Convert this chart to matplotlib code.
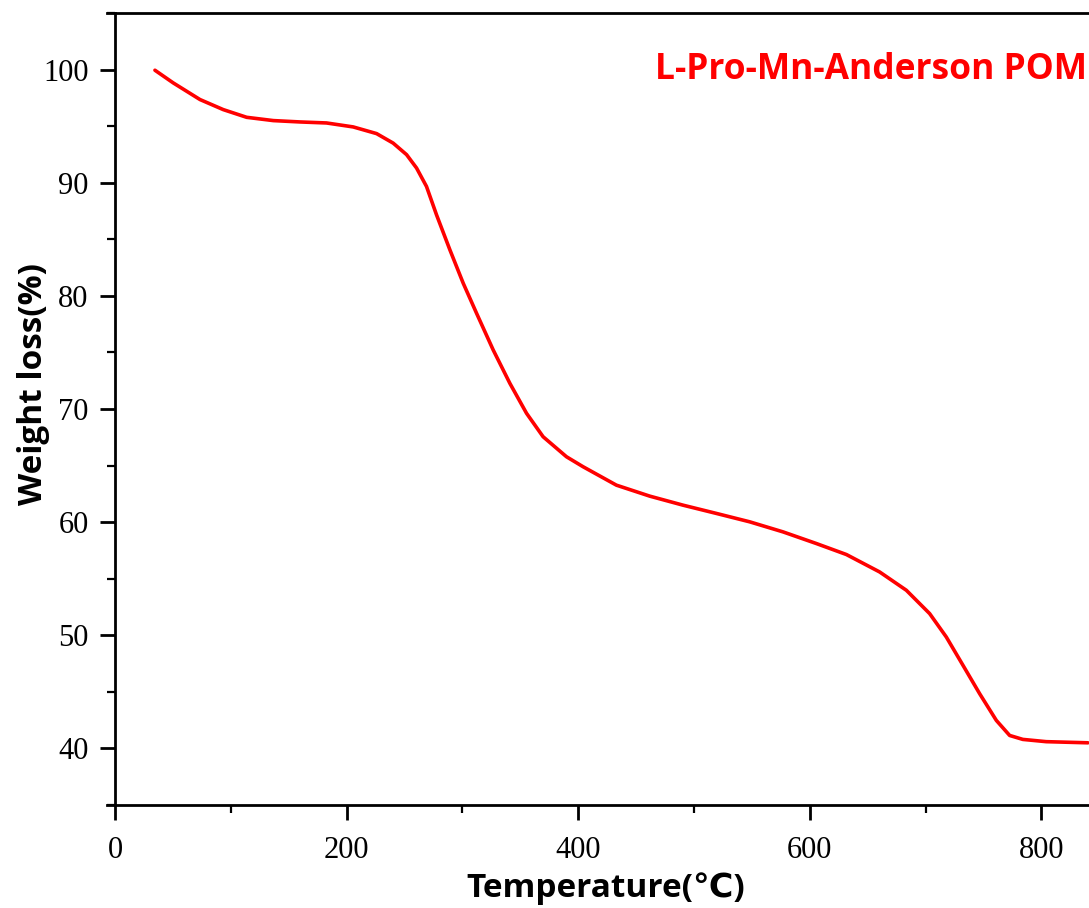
import matplotlib.pyplot as plt

# ---------------------------------------
# TGA data
# ---------------------------------------

temperature = [34.5, 50.3, 73.4, 93.5, 113.7, 136.7, 159.7, 182.7, 205.7, 225.9,
               240.2, 251.8, 260.4, 269.0, 277.7, 289.2, 300.7, 312.2, 326.6,
               341.0, 355.4, 369.7, 389.9, 404.2, 433.0, 461.8, 490.6, 519.4,
               548.1, 576.9, 605.7, 631.6, 660.3, 683.4, 703.5, 717.9, 732.3,
               746.7, 761.1, 772.6, 784.0, 804.2, 840.2]
weight = [99.94, 98.82, 97.35, 96.46, 95.78, 95.49, 95.37, 95.28, 94.93, 94.34,
          93.50, 92.48, 91.30, 89.67, 87.15, 84.07, 81.12, 78.47, 75.22,
          72.27, 69.62, 67.55, 65.78, 64.90, 63.27, 62.30, 61.50, 60.77,
          60.03, 59.14, 58.11, 57.14, 55.60, 53.98, 51.92, 49.85, 47.35,
          44.84, 42.48, 41.15, 40.80, 40.60, 40.50]

sample_name = "L-Pro-Mn-Anderson POM"

# ---------------------------------------
# Figure
# ---------------------------------------

fig = plt.figure(figsize=(10.89, 9.08), dpi=100)
ax = fig.add_axes([0.1056, 0.1134, 0.9017, 0.8723])

ax.plot(temperature, weight, color="red", linewidth=2.6,
        solid_capstyle="round", solid_joinstyle="round")

ax.set_xlim(0, 848)
ax.set_ylim(35, 105)
ax.set_xticks([0, 200, 400, 600, 800])
ax.set_xticks([100, 300, 500, 700], minor=True)
ax.set_yticks([40, 50, 60, 70, 80, 90, 100])
ax.set_yticks([35, 45, 55, 65, 75, 85, 95, 105], minor=True)

for side in ["left", "bottom", "top", "right"]:
    ax.spines[side].set_linewidth(2)
ax.spines["top"].set_bounds(-7, 848)
ax.spines["bottom"].set_bounds(-7, 848)

ax.tick_params(which="major", direction="out", length=11, width=2,
               labelsize=22)
ax.tick_params(axis="y", which="major", pad=8)
ax.tick_params(axis="x", which="major", pad=11)
ax.tick_params(which="minor", direction="out", length=5.5, width=1.6)

for lab in ax.get_xticklabels() + ax.get_yticklabels():
    lab.set_family("Liberation Serif")

ax.set_xlabel("Temperature(\u2103)", family=["Open Sans", "DejaVu Sans"],
              fontweight="bold", fontsize=24)
ax.set_ylabel("Weight loss(%)", family=["Open Sans", "DejaVu Sans"],
              fontweight="bold", fontsize=24)
ax.xaxis.set_label_coords(0.5, -0.084)
ax.yaxis.set_label_coords(-0.066, 0.5316)

ax.text(0.55, 0.928, sample_name, transform=ax.transAxes, color="red",
        family="Open Sans", fontweight="bold", fontsize=25.5, va="center")

fig.savefig("out.png", dpi=100)
